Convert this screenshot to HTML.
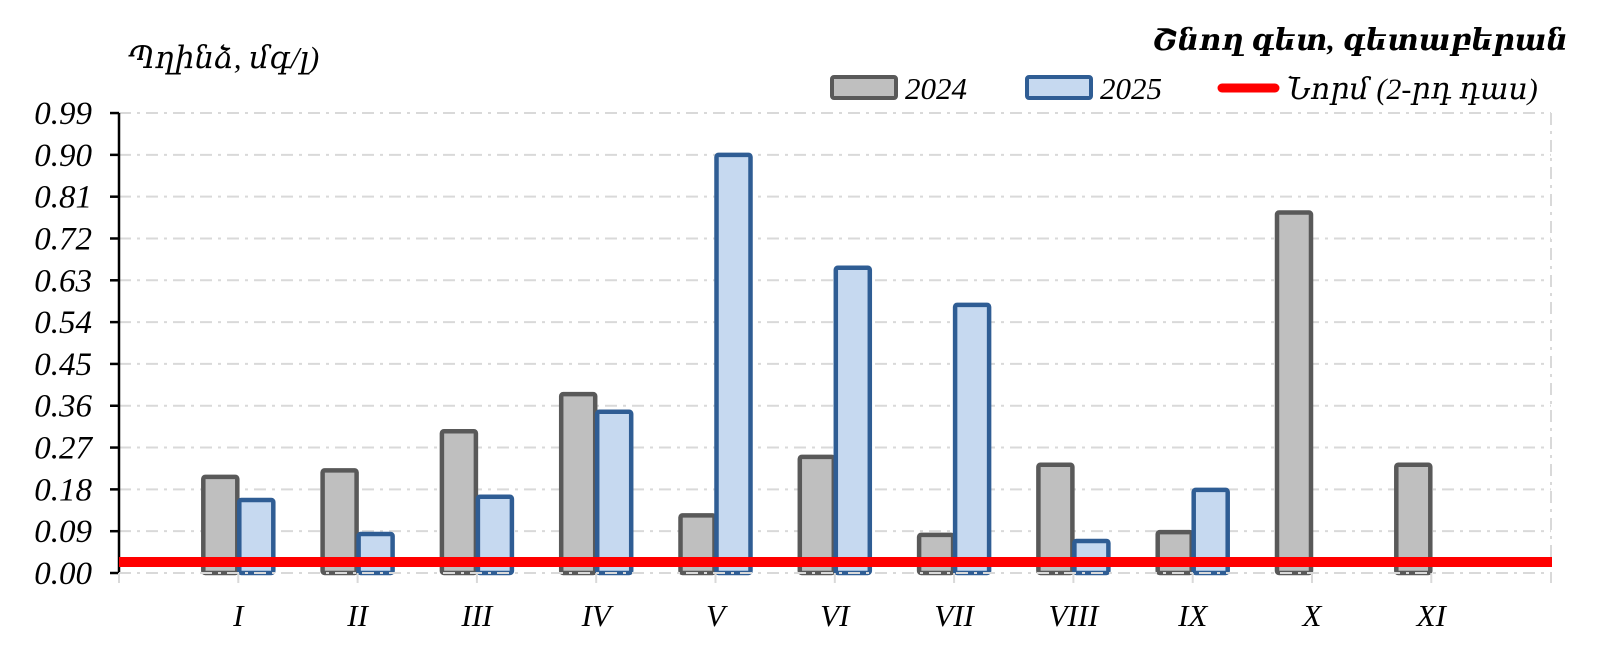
<!DOCTYPE html>
<html><head><meta charset="utf-8"><style>
html,body{margin:0;padding:0;background:#fff;}
svg{display:block;}
text{font-family:"Liberation Serif","DejaVu Serif",serif;font-style:italic;fill:#000;}
</style></head><body>
<svg width="1600" height="658" viewBox="0 0 1600 658" xmlns="http://www.w3.org/2000/svg">
<rect x="0" y="0" width="1600" height="658" fill="#fff"/>
<text x="128" y="68" font-size="31">Պղինձ, մգ/լ)</text>
<text x="1568" y="50" font-size="30" font-weight="bold" text-anchor="end">Շնող գետ, գետաբերան</text>
<rect x="832" y="77" width="64" height="21" fill="#bfbfbf" stroke="#595959" stroke-width="4" rx="2"/>
<text x="905" y="99" font-size="31">2024</text>
<rect x="1027" y="77" width="64" height="21" fill="#c6d9f0" stroke="#2f5d94" stroke-width="4" rx="2"/>
<text x="1100" y="99" font-size="31">2025</text>
<line x1="1222" y1="88" x2="1275" y2="88" stroke="#ff0000" stroke-width="9" stroke-linecap="round"/>
<text x="1287" y="99" font-size="30">Նորմ (2-րդ դաս)</text>
<g id="grid" stroke="#d9d9d9" stroke-width="2" stroke-dasharray="12,6,3,6"></g>
<g id="ylab"></g>
<line x1="119" y1="113" x2="119" y2="573" stroke="#000" stroke-width="2.5"/>
<line x1="1551" y1="113" x2="1551" y2="583" stroke="#d9d9d9" stroke-width="2" stroke-dasharray="12,6,3,6"/>
<g id="bars"></g>
<line x1="119" y1="573" x2="1551" y2="573" stroke="#d9d9d9" stroke-width="2" stroke-dasharray="12,6,3,6"/>
<line x1="119" y1="562" x2="1552" y2="562" stroke="#ff0000" stroke-width="10"/>
<g id="xlab"></g>
</svg>
<script>
var NS="http://www.w3.org/2000/svg";
function el(t,a,p,txt){var e=document.createElementNS(NS,t);for(var k in a)e.setAttribute(k,a[k]);if(txt)e.textContent=txt;document.getElementById(p).appendChild(e);return e;}
var y0=573,sc=464.6;
for(var i=0;i<=11;i++){var v=i*0.09,y=y0-v*sc;
 if(i>0)el('line',{x1:119,y1:y,x2:1551,y2:y},'grid');
 el('line',{x1:110,y1:y,x2:119,y2:y,stroke:'#000','stroke-width':2.5},'ylab');
 el('text',{x:92,y:y+11,'font-size':33,'text-anchor':'end'},'ylab',v.toFixed(2));}
var g=[0.207,0.221,0.305,0.385,0.124,0.25,0.082,0.233,0.088,0.776,0.233];
var b=[0.157,0.084,0.164,0.347,0.9,0.657,0.577,0.069,0.179,null,null];
var L=['I','II','III','IV','V','VI','VII','VIII','IX','X','XI'];
for(var k=0;k<11;k++){var c=119+119.3*(k+1);
 var h=g[k]*sc;el('rect',{x:c-35,y:y0-h,width:34,height:h,fill:'#bfbfbf',stroke:'#595959','stroke-width':4.5,rx:2},'bars');
 if(b[k]!=null){h=b[k]*sc;el('rect',{x:c+1,y:y0-h,width:34,height:h,fill:'#c6d9f0',stroke:'#2f5d94','stroke-width':4.5,rx:2},'bars');}
 el('line',{x1:c,y1:573,x2:c,y2:583,stroke:'#d9d9d9','stroke-width':2},'xlab');
 el('text',{x:c,y:626,'font-size':31,'text-anchor':'middle'},'xlab',L[k]);}
el('line',{x1:119,y1:573,x2:119,y2:583,stroke:'#d9d9d9','stroke-width':2},'xlab');
</script>
</body></html>
